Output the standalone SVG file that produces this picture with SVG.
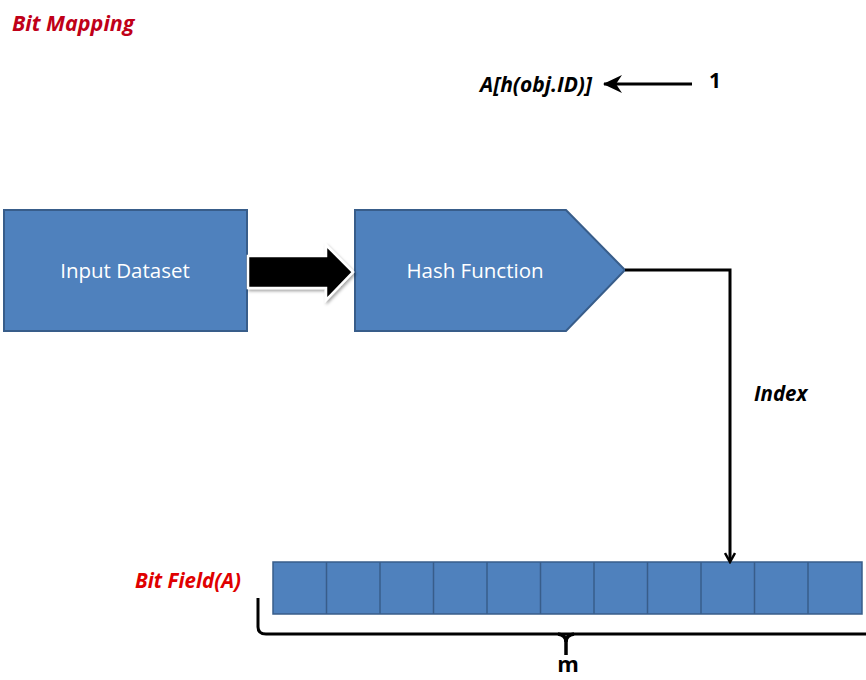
<svg xmlns="http://www.w3.org/2000/svg" width="866" height="680" viewBox="0 0 866 680">
<defs>
<style>
.box{fill:#4F81BD;stroke:#385D8A;stroke-width:2}
.cell{fill:#4F81BD;stroke:#385D8A;stroke-width:1.5}
.lbl{font-family:"Open Sans","Liberation Sans",sans-serif;font-size:20.5px;fill:#FFFFFF;text-anchor:middle}
.red{font-family:"Open Sans","Liberation Sans",sans-serif;font-style:italic;font-weight:bold;fill:#E00000}
.blk{font-family:"Open Sans","Liberation Sans",sans-serif;font-weight:bold;fill:#000}
.line{fill:none;stroke:#000;stroke-width:3}
</style>
<marker id="ah" markerWidth="12" markerHeight="12" refX="9" refY="6" orient="auto" markerUnits="userSpaceOnUse" viewBox="0 0 12 12">
<path d="M1,1 L10,6 L1,11" fill="none" stroke="#000" stroke-width="2.5"/>
</marker>
<marker id="ah2" markerWidth="22" markerHeight="20" refX="20" refY="10" orient="auto" markerUnits="userSpaceOnUse" viewBox="0 0 22 20">
<path d="M2,1 L21,10 L2,19 L8,10 Z" fill="#000"/>
</marker>
<filter id="sh" x="-20%" y="-20%" width="140%" height="140%">
<feDropShadow dx="1.5" dy="2" stdDeviation="1.5" flood-color="#000" flood-opacity="0.35"/>
</filter>
</defs>
<rect width="866" height="680" fill="#FFFFFF"/>
<text class="red" x="12" y="31" font-size="21.5" style="fill:#C00018">Bit Mapping</text>

<g id="input-dataset">
<rect class="box" x="4" y="210" width="243" height="121"/>
<text class="lbl" x="125" y="278">Input Dataset</text>
</g>

<g id="hash-function">
<path class="box" d="M355,210 L566,210 L625,270 L566,331 L355,331 Z"/>
<text class="lbl" x="475" y="278">Hash Function</text>
</g>

<g id="bit-field">
<rect class="cell" x="273" y="562" width="589" height="52"/>
<path class="cell" d="M326.5,562V614M380,562V614M433.5,562V614M487,562V614M540.5,562V614M594,562V614M647.5,562V614M701,562V614M754.5,562V614M808,562V614"/>
<text class="red" x="135" y="588" font-size="20.5">Bit Field(A)</text>
</g>

<g id="formula">
<text class="blk" x="480" y="92" font-size="21" font-style="italic">A[h(obj.ID)]</text>
<text class="blk" x="709" y="88" font-size="21">1</text>
</g>

<g id="connectors">
<path d="M248,256 L326,256 L326,245 L353,272 L326,300 L326,288 L248,288 Z" fill="#000" stroke="#FFFFFF" stroke-width="2.5" filter="url(#sh)"/>
<path class="line" d="M625,270 L730,270 L730,561" marker-end="url(#ah)"/>
<line x1="692" y1="84" x2="604" y2="84" stroke="#000" stroke-width="3" marker-end="url(#ah2)"/>
<text class="blk" x="754" y="401" font-size="20.5" font-style="italic">Index</text>
<path class="line" d="M258,598 L258,627 Q258,634 266,634 L866,634"/>
<path d="M558,634 Q566,635 566,642 L566,655" fill="none" stroke="#000" stroke-width="3.5"/>
<path d="M574,634 Q566,635 566,642" fill="none" stroke="#000" stroke-width="3.5"/>
<text class="blk" x="568" y="672" font-size="22" text-anchor="middle">m</text>
</g>
</svg>
